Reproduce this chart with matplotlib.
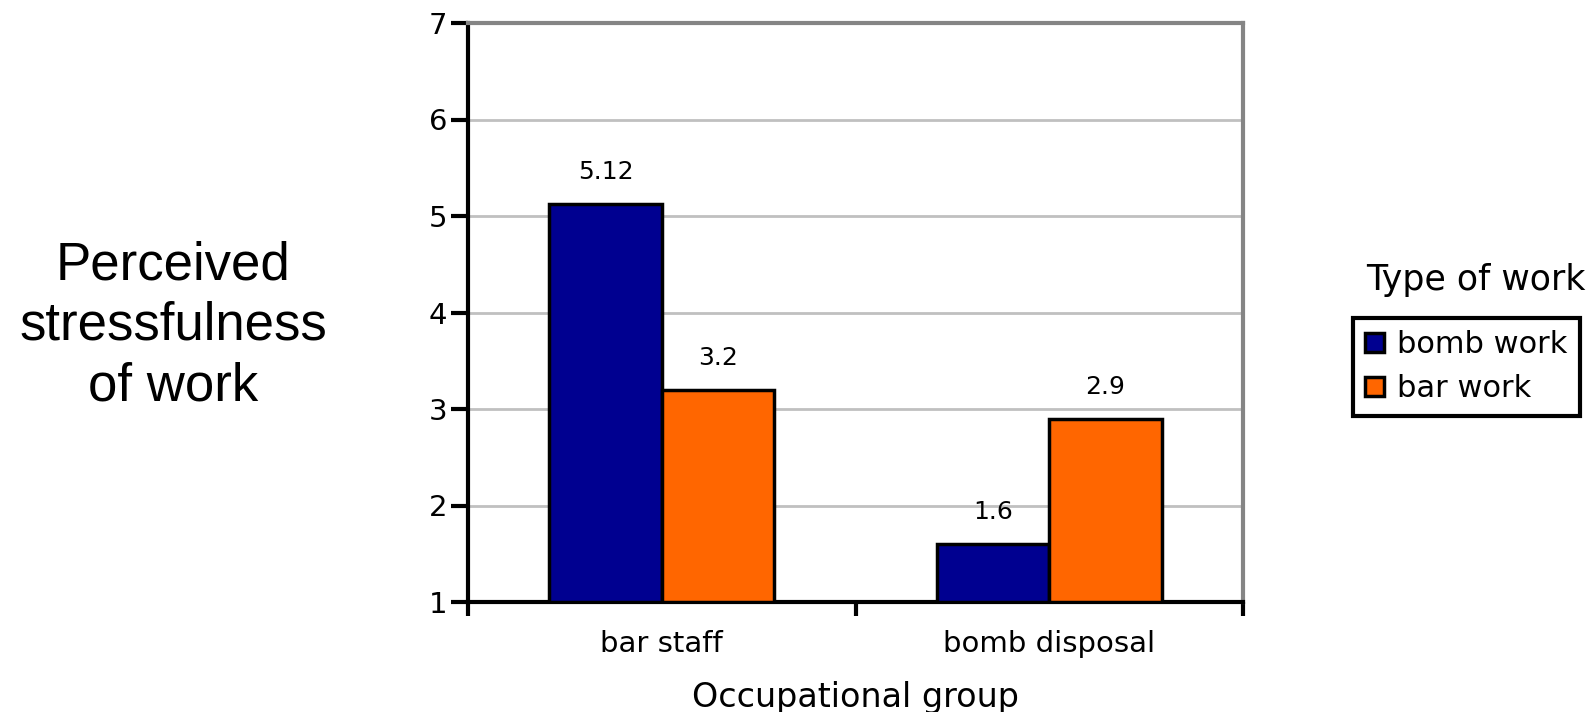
import matplotlib.pyplot as plt
import numpy as np

groups = ["bar staff", "bomb disposal"]
work_types = ["bomb work", "bar work"]
bomb_work = [5.12, 1.6]
bar_work = [3.2, 2.9]
value_labels = [["5.12", "1.6"], ["3.2", "2.9"]]
colors = ["#000090", "#ff6600"]

fig = plt.figure(figsize=(15.96, 7.12), dpi=100)
ax = fig.add_axes([468 / 1596, 1 - 602 / 712, 775 / 1596, 579 / 712])

x = np.arange(len(groups)) + 0.5
w = 0.29
bars = []
for i, vals in enumerate([bomb_work, bar_work]):
    heights = [v - 1 for v in vals]
    b = ax.bar(x + (i - 0.5) * w, heights, w, bottom=1, color=colors[i],
               edgecolor="black", linewidth=2.5, label=work_types[i], zorder=3)
    bars.append(b)
    for rect, v, lab in zip(b, vals, value_labels[i]):
        ax.annotate(lab, (rect.get_x() + rect.get_width() / 2, v),
                    xytext=(0, 23), textcoords="offset points",
                    ha="center", va="center", fontsize=18)

ax.set_xlim(0, 2)
ax.set_ylim(1, 7)
ax.set_yticks(range(1, 8))
ax.yaxis.grid(True, color="#c0c0c0", linewidth=2, zorder=0)
ax.set_axisbelow(True)

# category names sit between the boundary ticks
ax.set_xticks([0, 1, 2])
ax.set_xticklabels([])
ax.set_xticks(x, minor=True)
ax.set_xticklabels(groups, minor=True, fontsize=21)
ax.tick_params(axis="x", which="minor", length=0, pad=20)
ax.tick_params(axis="x", which="major", length=10, width=3)
ax.tick_params(axis="y", length=12, width=3, labelsize=21, pad=3)

for s in ["left", "bottom"]:
    ax.spines[s].set_linewidth(3)
    ax.spines[s].set_color("black")
for s in ["top", "right"]:
    ax.spines[s].set_linewidth(3)
    ax.spines[s].set_color("#858585")

fig.text((468 + 1243) / 2 / 1596, 1 - 697 / 712, "Occupational group",
         ha="center", va="center", fontsize=24)

fig.text(173 / 1596, 1 - 326 / 712, "Perceived\nstressfulness\nof work",
         ha="center", va="center", fontsize=38, family="Liberation Sans",
         linespacing=1.26)

fig.text(1476 / 1596, 1 - 280 / 712, "Type of work", ha="center",
         va="center", fontsize=25)
leg = fig.legend(handles=bars, labels=work_types, loc="upper left",
                 bbox_to_anchor=(1353 / 1596, 1 - 318 / 712), borderaxespad=0,
                 fontsize=22, frameon=True, fancybox=False, framealpha=1,
                 handlelength=0.6, handleheight=0.6, handletextpad=0.45,
                 borderpad=0.4, labelspacing=0.5)
leg.get_frame().set_edgecolor("black")
leg.get_frame().set_linewidth(3)

fig.savefig("out.png", dpi=100)
